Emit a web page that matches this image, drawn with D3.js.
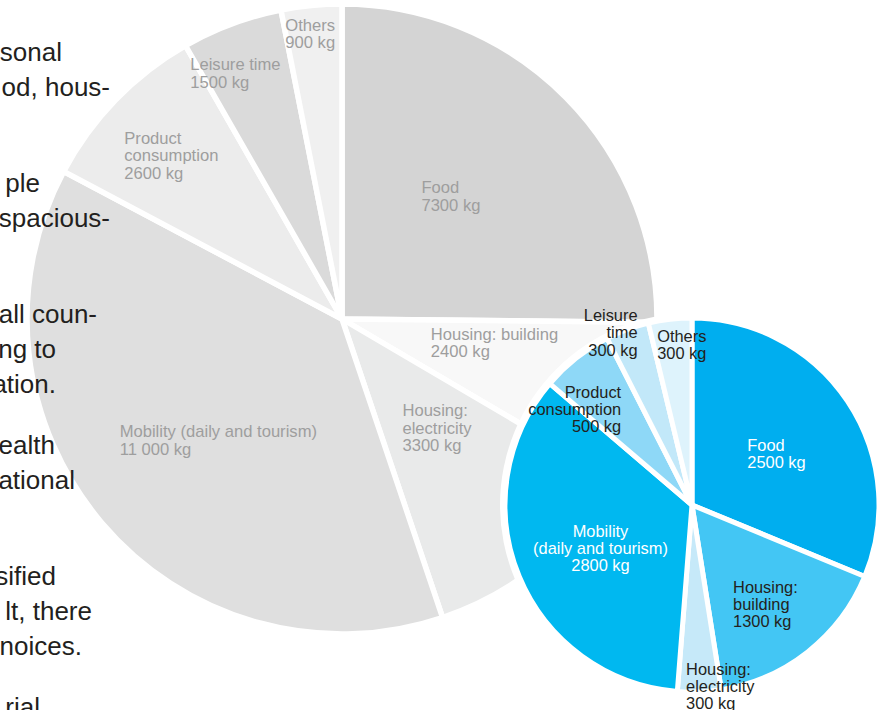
<!DOCTYPE html>
<html>
<head>
<meta charset="utf-8">
<script src="https://cdn.jsdelivr.net/npm/d3@7"></script>
<style>
    body { margin: 0; background: #fff; }
    svg { display: block; font-family: "Liberation Sans", Arial, Helvetica, sans-serif; }
</style>
</head>
<body>
<div id="chart"></div>
<script>
// Categories, same order for both pies (clockwise from 12 o'clock)
const categories = ['Food', 'Housing: building', 'Housing: electricity', 'Mobility (daily and tourism)',
    'Product consumption', 'Leisure time', 'Others'];

// Per-person values today (grey pie) and target (blue pie), kg CO2
const averageValues = [7300, 2400, 3300, 11000, 2600, 1500, 900];
const targetValues = [2500, 1300, 300, 2800, 500, 300, 300];

// Label lines as they are broken in the picture
const averageLabelLines = [['Food'], ['Housing: building'], ['Housing:', 'electricity'],
    ['Mobility (daily and tourism)'], ['Product', 'consumption'], ['Leisure time'], ['Others']];
const targetLabelLines = [['Food'], ['Housing:', 'building'], ['Housing:', 'electricity'],
    ['Mobility', '(daily and tourism)'], ['Product', 'consumption'], ['Leisure', 'time'], ['Others']];

// Cropped body text on the left edge (paragraphs)
const bodyParagraphs = [
    ['sonal', 'od, hous-', ''],
    ['ple', 'spacious-', ''],
    ['all coun-', 'ng to', 'ation.'],
    ['ealth', 'ational', ''],
    ['sified', 'lt, there', 'noices.'],
    ['rial']
];

// ---- layout / style ----
const width = 878, height = 710;
const greyColors = ['#d4d4d4', '#f8f8f8', '#e9eaea', '#dfdfdf', '#ececec', '#dadada', '#f0f0f0'];
const blueColors = ['#00aeef', '#43c6f4', '#c6e9f9', '#00b8f0', '#8ed8f7', '#c2e8f9', '#def3fc'];
const blueTextColors = ['#ffffff', '#231f20', '#231f20', '#ffffff', '#231f20', '#231f20', '#231f20'];
// label placement: [radius fraction, position inside the slice span, alignment]
const greyLabelPlace = [[0.52, 0.46, 'start'], [0.49, 0.28, 'start'], [0.46, 0.45, 'start'],
    [0.55, 0.47, 'start'], [0.75, 0.49, 'start'], [0.85, 0.34, 'start'], [0.91, 0.43, 'start']];
const blueLabelPlace = [[0.53, 0.52, 'start'], [0.66, 0.53, 'start'], [0.98, 0.0, 'start'],
    [0.54, 0.48, 'middle'], [0.81, -0.05, 'end'], [1.02, 0.13, 'end'], [0.86, 0.73, 'start']];
const bodyLineEnds = [62, 110, 0, 40, 110, 0, 97, 56, 56, 55, 75, 0, 56, 92, 82, 40];

const greyPie = { cx: 342, cy: 319, r: 315 };
const bluePie = { cx: 692, cy: 505, r: 187 };

const formatKg = v => (v >= 10000 ? d3.formatLocale({ decimal: '.', thousands: ' ', grouping: [3], currency: ['', ''] }).format(',')(v) : String(v)) + ' kg';

const svg = d3.select('#chart').append('svg')
    .attr('width', width)
    .attr('height', height);

function drawPie(values, conf, colors, strokeWidth) {
    const pie = d3.pie().sort(null).value(d => d);
    const arcs = pie(values);
    const arc = d3.arc().innerRadius(0).outerRadius(conf.r);
    const g = svg.append('g')
        .attr('transform', 'translate(' + conf.cx + ',' + conf.cy + ')');
    g.selectAll('path')
        .data(arcs)
        .enter()
        .append('path')
        .attr('d', arc)
        .style('fill', (d, i) => colors[i])
        .style('stroke', '#fff')
        .style('stroke-width', strokeWidth)
        .style('stroke-linejoin', 'miter');
    return { g: g, arcs: arcs };
}

function drawLabels(pieObj, conf, lines, values, place, colors, fontSize, lineHeight) {
    pieObj.arcs.forEach((d, i) => {
        const p = place[i];
        const angle = d.startAngle + p[1] * (d.endAngle - d.startAngle);
        const rad = p[0] * conf.r;
        const px = Math.sin(angle) * rad;
        const py = -Math.cos(angle) * rad;
        const label = pieObj.g.append('g');
        const text = label.append('text')
            .attr('text-anchor', p[2])
            .style('font-size', fontSize + 'px')
            .style('fill', colors[i]);
        lines[i].concat([formatKg(values[i])]).forEach((line, j) => {
            text.append('tspan')
                .attr('x', 0)
                .attr('y', j * lineHeight)
                .text(line);
        });
        const box = text.node().getBBox();
        label.attr('transform', 'translate(' + (px - box.x - box.width / 2) + ',' + (py - box.y - box.height / 2) + ')');
    });
}

// grey pie (today)
const grey = drawPie(averageValues, greyPie, greyColors, 5.5);
drawLabels(grey, greyPie, averageLabelLines, averageValues, greyLabelPlace,
    greyColors.map(() => '#9e9e9e'), 16.6, 17.6);

// body text over the grey pie
const bodyG = svg.append('g')
    .style('font-size', '26px')
    .style('fill', '#231f20');
let baseline = 61;
let k = 0;
bodyParagraphs.forEach(par => {
    par.forEach(line => {
        if (line) {
            bodyG.append('text')
                .attr('x', bodyLineEnds[k])
                .attr('y', baseline)
                .attr('text-anchor', 'end')
                .text(line);
        }
        k++;
        baseline += 35.3;
    });
    baseline += 25;
});

// white ring so the blue pie stands out over the grey one
svg.append('circle')
    .attr('cx', bluePie.cx)
    .attr('cy', bluePie.cy)
    .attr('r', bluePie.r + 5)
    .style('fill', '#fff');

const blue = drawPie(targetValues, bluePie, blueColors, 5);
drawLabels(blue, bluePie, targetLabelLines, targetValues, blueLabelPlace, blueTextColors, 16.4, 17.2);
</script>
</body>
</html>
